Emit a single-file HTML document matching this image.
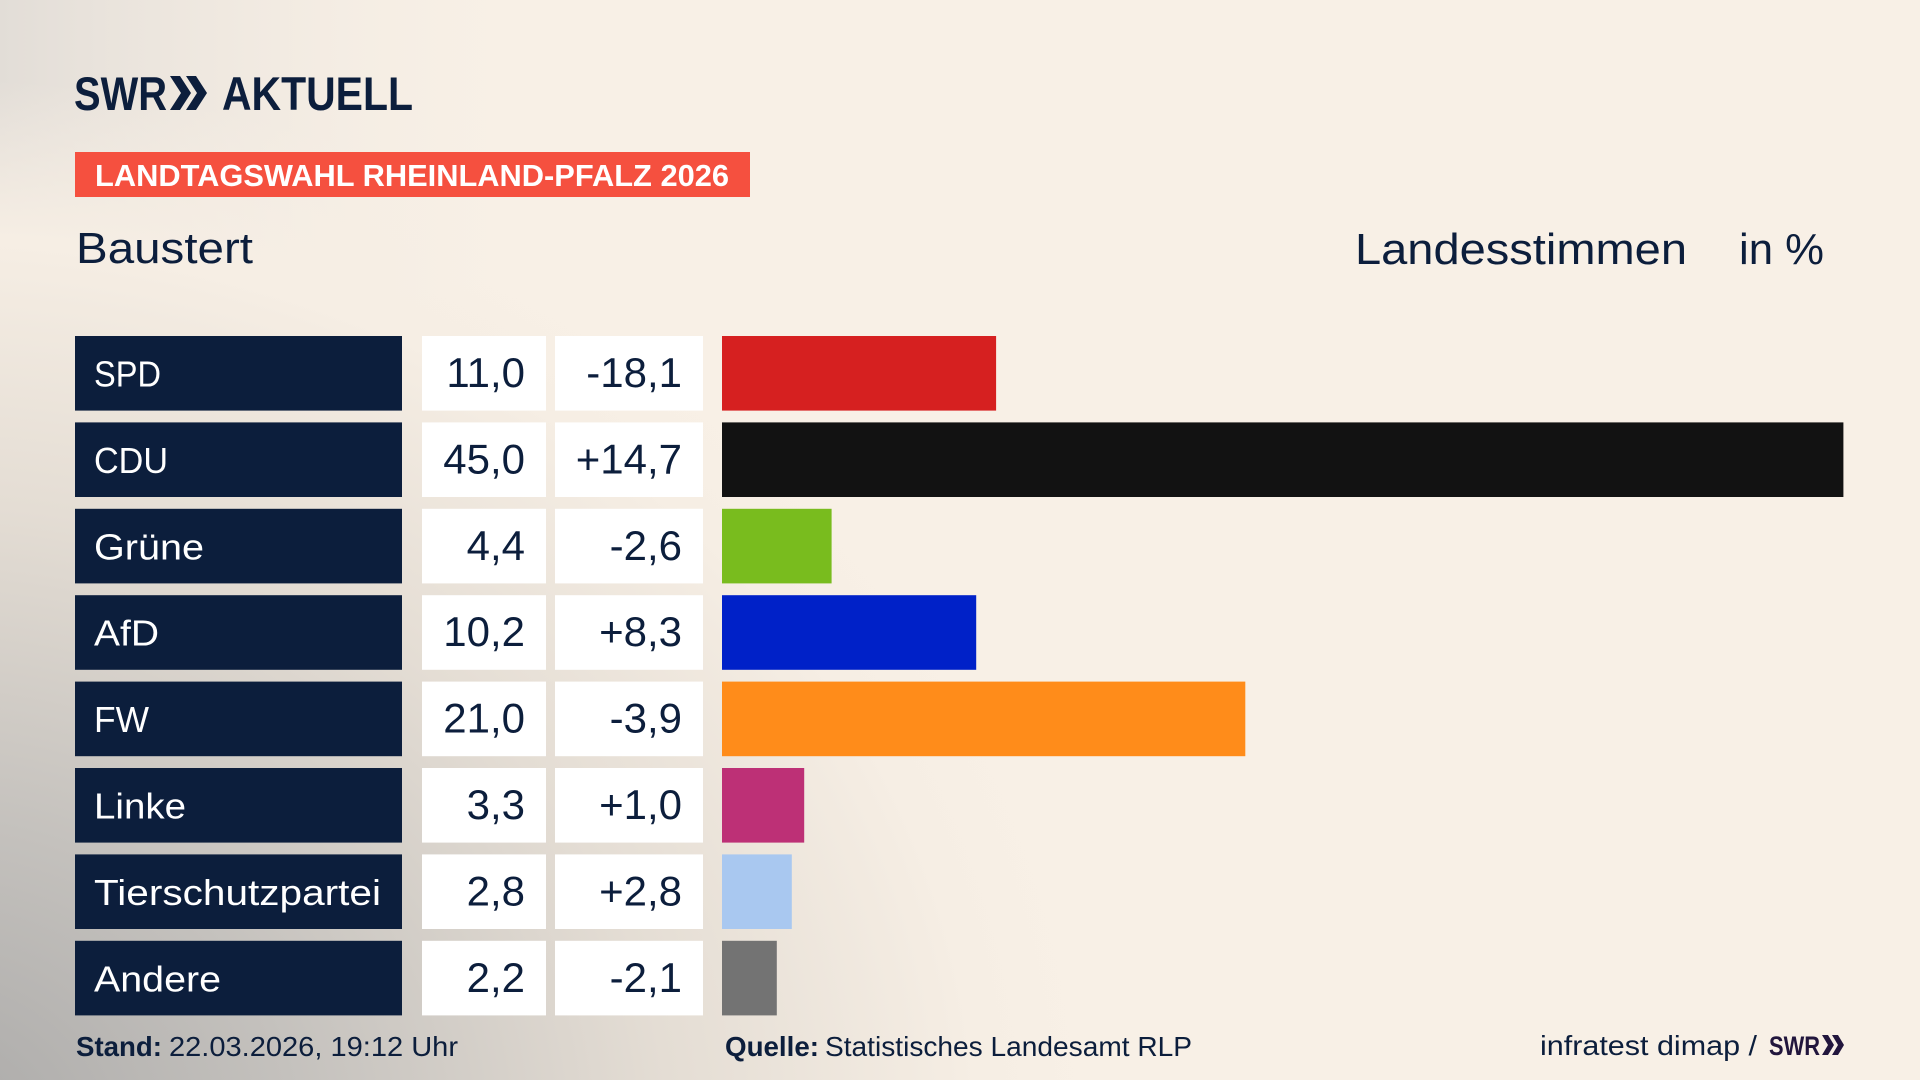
<!DOCTYPE html>
<html><head><meta charset="utf-8"><style>
html,body{margin:0;padding:0;width:1920px;height:1080px;overflow:hidden;background:#f8f0e6}
svg{display:block}
text{font-family:"Liberation Sans",sans-serif}
</style></head><body>
<svg width="1920" height="1080" viewBox="0 0 1920 1080" xmlns="http://www.w3.org/2000/svg">
<defs>
<radialGradient id="bg1" gradientUnits="userSpaceOnUse" cx="-80" cy="1140" r="1250" gradientTransform="translate(-80 1140) scale(1 0.85) translate(80 -1140)">
<stop offset="0" stop-color="#a9a8a7"/>
<stop offset="0.3" stop-color="#c4c1bd"/>
<stop offset="0.6" stop-color="#e4ddd4"/>
<stop offset="0.85" stop-color="#f6eee4"/>
<stop offset="1" stop-color="#f8f0e6" stop-opacity="0"/>
</radialGradient>
<linearGradient id="bg2" x1="0" y1="0" x2="1" y2="0">
<stop offset="0" stop-color="#e2ddd7" stop-opacity="1"/>
<stop offset="0.3" stop-color="#f8f0e6" stop-opacity="0"/>
</linearGradient>
</defs>
<rect x="0" y="0" width="1920" height="1080" fill="#f8f0e6"/>
<rect x="0" y="0" width="1920" height="1080" fill="url(#bg2)"/>
<rect x="0" y="0" width="1920" height="1080" fill="url(#bg1)"/>

<!-- Logo -->
<text x="74" y="110" font-size="47" font-weight="bold" fill="#0c1e3c" textLength="93" lengthAdjust="spacingAndGlyphs">SWR</text>
<polygon points="170,76 180,76 191,93 180,110 170,110 181,93" fill="#0c1e3c"/>
<polygon points="186,76 196,76 207,93 196,110 186,110 197,93" fill="#0c1e3c"/>
<text x="222" y="110" font-size="47" font-weight="bold" fill="#0c1e3c" textLength="191" lengthAdjust="spacingAndGlyphs">AKTUELL</text>

<!-- Banner -->
<rect x="75" y="152" width="675" height="45" fill="#f5503f"/>
<text x="95" y="186" font-size="31" font-weight="bold" fill="#ffffff" textLength="634" lengthAdjust="spacingAndGlyphs">LANDTAGSWAHL RHEINLAND-PFALZ 2026</text>

<!-- Headings -->
<text x="76" y="263" font-size="44" fill="#0c1e3c" textLength="177" lengthAdjust="spacingAndGlyphs">Baustert</text>
<text x="1355" y="264" font-size="44" fill="#0c1e3c" textLength="332" lengthAdjust="spacingAndGlyphs">Landesstimmen</text>
<text x="1739" y="264" font-size="44" fill="#0c1e3c" textLength="85" lengthAdjust="spacingAndGlyphs">in %</text>

<!-- Rows -->
<g>
<rect x="75" y="336" width="327" height="74.6" fill="#0c1e3c"/>
<rect x="422" y="336" width="124" height="74.6" fill="#ffffff"/>
<rect x="555" y="336" width="148" height="74.6" fill="#ffffff"/>
<rect x="722" y="336" width="274.1" height="74.6" fill="#d62020"/>
<text x="94" y="386.5" font-size="36" fill="#ffffff" textLength="67" lengthAdjust="spacingAndGlyphs">SPD</text>
<text x="525" y="387" font-size="42" fill="#0c1e3c" text-anchor="end">11,0</text>
<text x="682" y="387" font-size="42" fill="#0c1e3c" text-anchor="end">-18,1</text>
</g>
<g>
<rect x="75" y="422.4" width="327" height="74.6" fill="#0c1e3c"/>
<rect x="422" y="422.4" width="124" height="74.6" fill="#ffffff"/>
<rect x="555" y="422.4" width="148" height="74.6" fill="#ffffff"/>
<rect x="722" y="422.4" width="1121.4" height="74.6" fill="#121212"/>
<text x="94" y="472.9" font-size="36" fill="#ffffff" textLength="74" lengthAdjust="spacingAndGlyphs">CDU</text>
<text x="525" y="473.4" font-size="42" fill="#0c1e3c" text-anchor="end">45,0</text>
<text x="682" y="473.4" font-size="42" fill="#0c1e3c" text-anchor="end">+14,7</text>
</g>
<g>
<rect x="75" y="508.8" width="327" height="74.6" fill="#0c1e3c"/>
<rect x="422" y="508.8" width="124" height="74.6" fill="#ffffff"/>
<rect x="555" y="508.8" width="148" height="74.6" fill="#ffffff"/>
<rect x="722" y="508.8" width="109.6" height="74.6" fill="#79bc1e"/>
<text x="94" y="559.3" font-size="36" fill="#ffffff" textLength="110" lengthAdjust="spacingAndGlyphs">Grüne</text>
<text x="525" y="559.8" font-size="42" fill="#0c1e3c" text-anchor="end">4,4</text>
<text x="682" y="559.8" font-size="42" fill="#0c1e3c" text-anchor="end">-2,6</text>
</g>
<g>
<rect x="75" y="595.2" width="327" height="74.6" fill="#0c1e3c"/>
<rect x="422" y="595.2" width="124" height="74.6" fill="#ffffff"/>
<rect x="555" y="595.2" width="148" height="74.6" fill="#ffffff"/>
<rect x="722" y="595.2" width="254.2" height="74.6" fill="#0021c8"/>
<text x="94" y="645.7" font-size="36" fill="#ffffff" textLength="65" lengthAdjust="spacingAndGlyphs">AfD</text>
<text x="525" y="646.2" font-size="42" fill="#0c1e3c" text-anchor="end">10,2</text>
<text x="682" y="646.2" font-size="42" fill="#0c1e3c" text-anchor="end">+8,3</text>
</g>
<g>
<rect x="75" y="681.6" width="327" height="74.6" fill="#0c1e3c"/>
<rect x="422" y="681.6" width="124" height="74.6" fill="#ffffff"/>
<rect x="555" y="681.6" width="148" height="74.6" fill="#ffffff"/>
<rect x="722" y="681.6" width="523.3" height="74.6" fill="#ff8c1a"/>
<text x="94" y="732.1" font-size="36" fill="#ffffff" textLength="55" lengthAdjust="spacingAndGlyphs">FW</text>
<text x="525" y="732.6" font-size="42" fill="#0c1e3c" text-anchor="end">21,0</text>
<text x="682" y="732.6" font-size="42" fill="#0c1e3c" text-anchor="end">-3,9</text>
</g>
<g>
<rect x="75" y="768" width="327" height="74.6" fill="#0c1e3c"/>
<rect x="422" y="768" width="124" height="74.6" fill="#ffffff"/>
<rect x="555" y="768" width="148" height="74.6" fill="#ffffff"/>
<rect x="722" y="768" width="82.2" height="74.6" fill="#bd3076"/>
<text x="94" y="818.5" font-size="36" fill="#ffffff" textLength="92" lengthAdjust="spacingAndGlyphs">Linke</text>
<text x="525" y="819" font-size="42" fill="#0c1e3c" text-anchor="end">3,3</text>
<text x="682" y="819" font-size="42" fill="#0c1e3c" text-anchor="end">+1,0</text>
</g>
<g>
<rect x="75" y="854.4" width="327" height="74.6" fill="#0c1e3c"/>
<rect x="422" y="854.4" width="124" height="74.6" fill="#ffffff"/>
<rect x="555" y="854.4" width="148" height="74.6" fill="#ffffff"/>
<rect x="722" y="854.4" width="69.8" height="74.6" fill="#a9c8f0"/>
<text x="94" y="904.9" font-size="36" fill="#ffffff" textLength="287" lengthAdjust="spacingAndGlyphs">Tierschutzpartei</text>
<text x="525" y="905.4" font-size="42" fill="#0c1e3c" text-anchor="end">2,8</text>
<text x="682" y="905.4" font-size="42" fill="#0c1e3c" text-anchor="end">+2,8</text>
</g>
<g>
<rect x="75" y="940.8" width="327" height="74.6" fill="#0c1e3c"/>
<rect x="422" y="940.8" width="124" height="74.6" fill="#ffffff"/>
<rect x="555" y="940.8" width="148" height="74.6" fill="#ffffff"/>
<rect x="722" y="940.8" width="54.8" height="74.6" fill="#737373"/>
<text x="94" y="991.3" font-size="36" fill="#ffffff" textLength="127" lengthAdjust="spacingAndGlyphs">Andere</text>
<text x="525" y="991.8" font-size="42" fill="#0c1e3c" text-anchor="end">2,2</text>
<text x="682" y="991.8" font-size="42" fill="#0c1e3c" text-anchor="end">-2,1</text>
</g>

<!-- Footer -->
<text x="76" y="1056" font-size="28" font-weight="bold" fill="#0c1e3c" textLength="86" lengthAdjust="spacingAndGlyphs">Stand:</text>
<text x="169" y="1056" font-size="28" fill="#0c1e3c" textLength="289" lengthAdjust="spacingAndGlyphs">22.03.2026, 19:12 Uhr</text>
<text x="725" y="1056" font-size="28" font-weight="bold" fill="#0c1e3c" textLength="94" lengthAdjust="spacingAndGlyphs">Quelle:</text>
<text x="825" y="1056" font-size="28" fill="#0c1e3c" textLength="367" lengthAdjust="spacingAndGlyphs">Statistisches Landesamt RLP</text>
<text x="1540" y="1055" font-size="28" fill="#0c1e3c" textLength="217" lengthAdjust="spacingAndGlyphs">infratest dimap /</text>
<text x="1769" y="1055" font-size="27" font-weight="bold" fill="#22163d" textLength="51" lengthAdjust="spacingAndGlyphs">SWR</text>
<polygon points="1822,1035 1828,1035 1834,1045 1828,1055 1822,1055 1828,1045" fill="#22163d"/>
<polygon points="1832,1035 1838,1035 1844,1045 1838,1055 1832,1055 1838,1045" fill="#22163d"/>
</svg>
</body></html>
